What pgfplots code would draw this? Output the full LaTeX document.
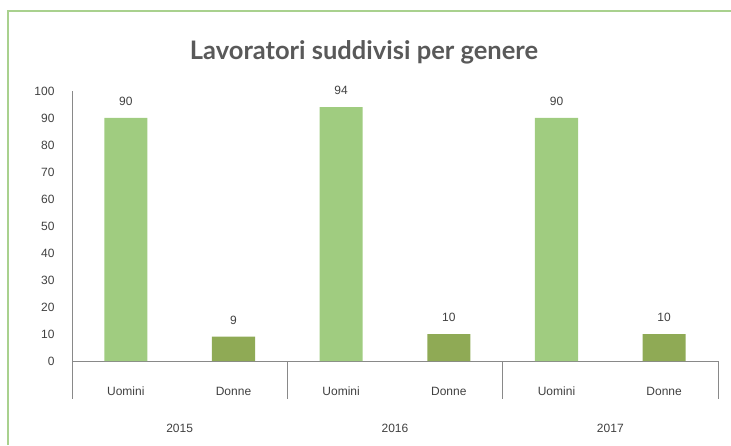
\documentclass[border=0pt]{standalone}
\usepackage{fontspec}
\setmainfont{Liberation Sans}
\newfontfamily\titlefont{Lato}
\usepackage{pgfplots}
\pgfplotsset{compat=1.18}
\definecolor{uomini}{HTML}{A0CC80}
\definecolor{donne}{HTML}{8FAA55}
\definecolor{framegreen}{HTML}{A9D18E}
\definecolor{txt}{HTML}{404040}
\definecolor{titlegray}{HTML}{595959}
\definecolor{axisgray}{HTML}{898989}

\begin{document}
\begin{tikzpicture}[x=1pt,y=1pt]
    \useasboundingbox (0,0) rectangle (731,445);
    % outer frame (left and top edges only)
    \draw[framegreen, line width=1.5pt] (8,0) -- (8,434) -- (731,434);
    \node[font=\titlefont\bfseries\fontsize{25.5}{30}\selectfont, text=titlegray]
        at (364,393) {Lavoratori suddivisi per genere};
    \begin{axis}[
        at={(72pt,84pt)}, anchor=south west,
        scale only axis,
        width=646pt, height=270pt,
        xmin=-0.5, xmax=5.5,
        ymin=0, ymax=100,
        ytick={0,10,...,100},
        xtick={0,...,5},
        xticklabels={Uomini,Donne,Uomini,Donne,Uomini,Donne},
        axis x line*=bottom,
        axis y line*=left,
        axis line style={axisgray, line width=0.8pt, -},
        major tick length=0pt,
        /pgf/number format/assume math mode=true,
        tick label style={font=\fontsize{12}{14}\selectfont, text=txt},
        xticklabel style={anchor=base, yshift=-34pt},
        yticklabel style={anchor=east, xshift=-14pt},
        ybar, bar shift=0pt, bar width=0.4,
        nodes near coords,
        every node near coord/.append style={font=\fontsize{12}{14}\selectfont, text=txt, yshift=9pt},
        clip=false,
    ]
        \addplot[fill=uomini, draw=none] coordinates {(0,90) (2,94) (4,90)};
        \addplot[fill=donne, draw=none] coordinates {(1,9) (3,10) (5,10)};

        % group separators
        \draw[axisgray, line width=0.8pt] (axis cs:-0.5,0) -- ++(0pt,-38pt);
        \draw[axisgray, line width=0.8pt] (axis cs:1.5,0) -- ++(0pt,-38pt);
        \draw[axisgray, line width=0.8pt] (axis cs:3.5,0) -- ++(0pt,-38pt);
        \draw[axisgray, line width=0.8pt] (axis cs:5.5,0) -- ++(0pt,-38pt);

        % year labels
        \node[font=\fontsize{12}{14}\selectfont, text=txt, yshift=-67pt] at (axis cs:0.5,0) {2015};
        \node[font=\fontsize{12}{14}\selectfont, text=txt, yshift=-67pt] at (axis cs:2.5,0) {2016};
        \node[font=\fontsize{12}{14}\selectfont, text=txt, yshift=-67pt] at (axis cs:4.5,0) {2017};
    \end{axis}
\end{tikzpicture}
\end{document}
